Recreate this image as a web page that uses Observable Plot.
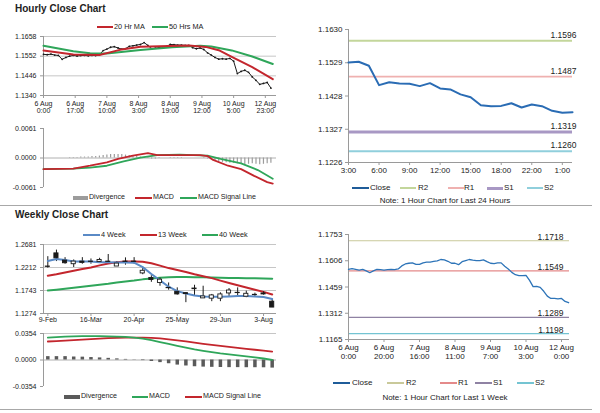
<!DOCTYPE html>
<html><head><meta charset="utf-8">
<script src="https://cdn.jsdelivr.net/npm/d3@7"></script>
<script src="https://cdn.jsdelivr.net/npm/@observablehq/plot@0.6"></script>
<style>
body{margin:0;background:#fff;}
#root{position:relative;width:600px;height:413px;overflow:hidden;font-family:"Liberation Sans",Arial,Helvetica,sans-serif;color:#222;background:#fff;}
#root svg{display:block;}
</style></head><body><div id="root"></div>
<script>
// ---------- Hourly close chart (top-left) ----------
const hcYTicks = [1.1340, 1.1446, 1.1552, 1.1658];
const hcXTickIdx = [0, 17, 34, 51, 68, 85, 102, 119];
const hcXTickLabels = ["6 Aug\n0:00","6 Aug\n17:00","7 Aug\n10:00","8 Aug\n3:00","8 Aug\n19:00","9 Aug\n12:00","10 Aug\n5:00","12 Aug\n23:00"];
// hourly close, every 2nd hour (index 0,2,4,...)
const hcClose = [1.1562,1.1560,1.1563,1.1558,1.1556,1.1535,1.1545,1.1552,1.1556,1.1553,1.1555,1.1556,1.1554,1.1556,1.1555,1.1560,
  1.1582,1.1590,1.1600,1.1603,1.1596,1.1590,1.1593,1.1605,1.1608,1.1612,1.1615,1.1625,1.1610,1.1592,1.1595,1.1598,1.1596,1.1605,
  1.1615,1.1614,1.1612,1.1612,1.1610,1.1610,1.1598,1.1592,1.1596,1.1588,1.1570,1.1558,1.1545,1.1536,1.1538,1.1536,1.1540,1.1525,
  1.1458,1.1470,1.1476,1.1465,1.1440,1.1422,1.1400,1.1405,1.1410,1.1380];
const ma20Idx = [0,16,30,41,52,78,87,94,101,112,123];
const ma20Val = [1.1582,1.1561,1.1558,1.1586,1.1603,1.1609,1.1602,1.1584,1.1548,1.1493,1.1428];
const ma50Idx = [0,16,25,34,52,69,84,90,101,112,123];
const ma50Val = [1.1608,1.1578,1.1568,1.1567,1.1585,1.1600,1.1608,1.1604,1.1583,1.1550,1.1510];

// ---------- Hourly MACD ----------
const hmYTicks = [-0.0061, 0.0000, 0.0061];
const hmMacdIdx = [0,16,25,34,40,48,56,61,70,84,88,91,99,106,113,120,123];
const hmMacdVal = [-0.0023,-0.0022,-0.0016,-0.0009,-0.0002,0.0005,0.0010,0.0006,0.0006,0.0006,0.0004,-0.0004,-0.0016,-0.0023,-0.0037,-0.0050,-0.0053];
const hmSigIdx = [0,16,25,34,43,52,61,73,88,95,106,115,123];
const hmSigVal = [-0.0023,-0.0022,-0.0020,-0.0016,-0.0007,0.0001,0.0006,0.0007,0.0005,-0.0002,-0.0011,-0.0025,-0.0043];
// divergence every 2nd hour
const hmDiv = [0,0,0,0,0,0,0,0.0001, 0.0001,0.0001,0.0002,0.0002,0.0002,0.0003,0.0003,
  0.0004,0.0005,0.0006,0.0007,0.0007, 0.0007,0.0007,0.0006,0.0005,0.0004,0.0003,0.0002,
  0.0001,-0.0001,-0.0002,-0.0002,-0.0001,0,0, 0.0001,0.0001,0.0001,0.0001,0,0,0,0,0,-0.0001,
  -0.0002,-0.0004,-0.0006,-0.0008,-0.0009,-0.0010,-0.0011,-0.0011,-0.0012,
  -0.0013,-0.0014,-0.0013,-0.0012,-0.0013,-0.0014,-0.0013,-0.0012,-0.0011];

// ---------- Last 24 hours (top-right) ----------
const h24Labels = ["3:00","4:00","5:00","6:00","7:00","8:00","9:00","10:00","11:00","12:00","13:00","14:00","15:00","16:00","17:00","18:00","20:00","21:00","22:00","23:00","0:00","1:00","2:00"];
const h24Close = [1.1530,1.1532,1.1520,1.1461,1.1470,1.1466,1.1465,1.1458,1.1467,1.1451,1.1448,1.1433,1.1424,1.1400,1.1397,1.1398,1.1406,1.1393,1.1402,1.1397,1.1383,1.1377,1.1379];
const h24Shown = ["3:00","6:00","9:00","12:00","15:00","18:00","22:00","1:00"];
const h24YTicks = [1.1226, 1.1327, 1.1428, 1.1529, 1.1630];
const levelNames = ["R2","R1","S1","S2"];
const levels24 = [1.1596, 1.1487, 1.1319, 1.1260];

// ---------- Last week hourly (bottom-right) ----------
const wkYTicks = [1.1165, 1.1312, 1.1459, 1.1606, 1.1753];
const wkXTickIdx = [0,20,40,60,80,100,120];
const wkXTickLabels = ["6 Aug\n0:00","6 Aug\n20:00","7 Aug\n16:00","8 Aug\n11:00","9 Aug\n7:00","10 Aug\n3:00","12 Aug\n0:00"];
const wkClose = [1.1558,1.1562,1.1558,1.1554,1.1558,1.1549,1.1539,1.1549,1.1558,1.1556,1.1554,1.1556,1.1558,1.1556,1.1560,
  1.1577,1.1588,1.1592,1.1594,1.1586,1.1586,1.1594,1.1598,1.1598,1.1603,1.1605,1.1613,1.1611,1.1603,1.1592,1.1592,1.1584,
  1.1601,1.1607,1.1613,1.1609,1.1607,1.1607,1.1611,1.1601,1.1592,1.1590,1.1594,1.1594,1.1575,1.1560,1.1541,1.1528,1.1523,
  1.1523,1.1524,1.1496,1.1461,1.1463,1.1457,1.1435,1.1408,1.1395,1.1395,1.1392,1.1395,1.1378,1.1371];
const levelsWk = [1.1718, 1.1549, 1.1289, 1.1198];

// ---------- Weekly close chart (bottom-left) ----------
const wLabels = ["9-Feb","16-Mar","20-Apr","25-May","29-Jun","3-Aug"];
const wLabelIdx = [0,5,10,15,20,25];
const wYTicks = [1.1274, 1.1743, 1.2212, 1.2681];
const wOpen  = [1.2232,1.2500,1.2353,1.2279,1.2333,1.2333,1.2326,1.2333,1.2232,1.2333,1.2333,1.2091,1.1998,1.1897,1.1797,1.1716,1.1689,1.1783,1.1582,1.1576,1.1576,1.1683,1.1696,1.1616,1.1649,1.1683,1.1515];
const wClose = [1.2225,1.2400,1.2299,1.2333,1.2306,1.2326,1.2366,1.2326,1.2292,1.2326,1.2326,1.2145,1.1957,1.1964,1.1790,1.1663,1.1669,1.1770,1.1622,1.1643,1.1663,1.1743,1.1690,1.1676,1.1655,1.1663,1.1395];
const wHigh  = [1.2433,1.2567,1.2413,1.2366,1.2413,1.2386,1.2400,1.2477,1.2333,1.2408,1.2413,1.2212,1.2045,1.1998,1.1897,1.1797,1.1696,1.1850,1.1830,1.1663,1.1696,1.1783,1.1797,1.1730,1.1689,1.1716,1.1562];
const wLow   = [1.2199,1.2333,1.2279,1.2212,1.2279,1.2279,1.2299,1.2294,1.2232,1.2259,1.2279,1.2065,1.1910,1.1830,1.1750,1.1649,1.1495,1.1629,1.1582,1.1515,1.1515,1.1609,1.1629,1.1596,1.1616,1.1649,1.1395];
const w4  = [1.2346,1.2386,1.2366,1.2333,1.2333,1.2333,1.2320,1.2320,1.2313,1.2313,1.2310,1.2220,1.2080,1.1950,1.1820,1.1730,1.1683,1.1640,1.1620,1.1616,1.1616,1.1622,1.1630,1.1630,1.1622,1.1609,1.1569];
const w13 = [1.2045,1.2075,1.2110,1.2145,1.2180,1.2212,1.2255,1.2295,1.2320,1.2333,1.2335,1.2330,1.2299,1.2250,1.2200,1.2160,1.2120,1.2075,1.2035,1.1995,1.1945,1.1897,1.1850,1.1805,1.1760,1.1715,1.1663];
const w40 = [1.1743,1.1760,1.1780,1.1800,1.1820,1.1840,1.1860,1.1880,1.1905,1.1925,1.1945,1.1970,1.1990,1.2005,1.2015,1.2018,1.2018,1.2015,1.2012,1.2008,1.2005,1.2000,1.1998,1.1995,1.1992,1.1990,1.1985];

// ---------- Weekly MACD ----------
const wmYTicks = [-0.0354, 0.0000, 0.0354];
const wMacd = [0.0300,0.0306,0.0312,0.0316,0.0318,0.0318,0.0318,0.0316,0.0312,0.0308,0.0300,0.0285,0.0265,0.0240,0.0215,0.0190,0.0165,0.0142,0.0122,0.0104,0.0088,0.0075,0.0062,0.0049,0.0036,0.0020,0.0002];
const wSig  = [0.0247,0.0252,0.0258,0.0265,0.0272,0.0280,0.0286,0.0291,0.0295,0.0298,0.0300,0.0299,0.0295,0.0288,0.0275,0.0262,0.0248,0.0232,0.0216,0.0202,0.0188,0.0175,0.0162,0.0150,0.0137,0.0124,0.0112];
const wDiv  = [0.0045,0.0045,0.0045,0.0040,0.0038,0.0033,0.0028,0.0022,0.0015,0.0008,0.0003,-0.0008,-0.0020,-0.0035,-0.0050,-0.0068,-0.0080,-0.0090,-0.0095,-0.0098,-0.0100,-0.0102,-0.0102,-0.0103,-0.0103,-0.0104,-0.0108];

// ---------- styling ----------
const FONT = '"Liberation Sans", Arial, Helvetica, sans-serif';
const RED = "#c3262d", GREEN = "#2fa65a", BLUE4 = "#5a8ac6";
const GRID = "#c6c6c6", AXIS = "#9a9a9a";
const col24 = ["#c3d69b", "#efb1b0", "#a898c4", "#90cfdc"];
const w24 = [2, 1.6, 3, 2];
const colWk = ["#c9c99a", "#e48a8a", "#8f82a3", "#74c4d2"];
const f4 = d => d.toFixed(4);
const root = document.getElementById("root");

function put(node, left, top) {
  node.style.position = "absolute"; node.style.left = left + "px"; node.style.top = top + "px";
  root.appendChild(node);
}
function txt(x, y, s, o = {}) {
  const d = document.createElement("div");
  d.textContent = s;
  d.style.cssText = `position:absolute;left:${x}px;top:${y}px;font-size:${o.size || 7}px;line-height:1;white-space:nowrap;` +
    `transform:translate(${o.center ? "-50%" : "0"},-50%);font-weight:${o.bold ? "bold" : "normal"};color:#222;`;
  root.appendChild(d);
}
function sw(x1, x2, y, color, h) {
  const d = document.createElement("div");
  d.style.cssText = `position:absolute;left:${x1}px;top:${y - h / 2}px;width:${x2 - x1}px;height:${h}px;background:${color};`;
  root.appendChild(d);
}
function hr(y, x1, x2) {
  const d = document.createElement("div");
  d.style.cssText = `position:absolute;left:${x1}px;top:${y}px;width:${x2 - x1}px;height:1px;background:#a8a8a8;`;
  root.appendChild(d);
}
const st = fs => ({fontFamily: FONT, fontSize: fs + "px", background: "transparent", overflow: "visible", color: "#222"});

// ---------- Panel A: hourly close ----------
const closeData = hcClose.map((v, k) => ({i: k * 2, v}));
const ma20Data = ma20Idx.map((i, k) => ({i, v: ma20Val[k]}));
const ma50Data = ma50Idx.map((i, k) => ({i, v: ma50Val[k]}));
put(Plot.plot({
  width: 300, height: 90, marginLeft: 43, marginRight: 24, marginTop: 6, marginBottom: 25,
  style: st(7),
  x: {domain: [0, 125], label: null}, y: {domain: [hcYTicks[0], hcYTicks[3]], label: null},
  marks: [
    Plot.ruleY(hcYTicks.slice(1), {stroke: GRID}),
    Plot.ruleY([hcYTicks[0]], {stroke: AXIS}),
    Plot.ruleX([0], {stroke: AXIS}),
    Plot.axisY(hcYTicks, {tickFormat: f4, tickSize: 3, tickPadding: 4, stroke: AXIS, fill: "#222", fontSize: 7, label: null}),
    Plot.axisX(hcXTickIdx, {tickFormat: d => hcXTickLabels[hcXTickIdx.indexOf(d)], tickSize: 3, tickPadding: 2, stroke: AXIS, fill: "#222", fontSize: 7, lineHeight: 1.05, label: null}),
    Plot.line(closeData, {x: "i", y: "v", stroke: "#1a1a1a", strokeWidth: 1}),
    Plot.dot(closeData, {x: "i", y: "v", r: 0.9, fill: "#1a1a1a", stroke: null}),
    Plot.line(ma50Data, {x: "i", y: "v", stroke: GREEN, strokeWidth: 2}),
    Plot.line(ma20Data, {x: "i", y: "v", stroke: RED, strokeWidth: 2})
  ]
}), 0, 30);

// ---------- Panel B: hourly MACD ----------
const hmDivData = hmDiv.map((v, k) => ({i: k * 2, v}));
put(Plot.plot({
  width: 300, height: 80, marginLeft: 43, marginRight: 24, marginTop: 8, marginBottom: 13,
  style: st(7),
  x: {domain: [0, 125], axis: null}, y: {domain: [hmYTicks[0], hmYTicks[2]], label: null},
  marks: [
    Plot.ruleY([0], {stroke: "#b0b0b0"}),
    Plot.ruleX([0], {stroke: AXIS}),
    Plot.axisY(hmYTicks, {tickFormat: f4, tickSize: 3, tickPadding: 4, stroke: AXIS, fill: "#222", fontSize: 7, label: null}),
    Plot.ruleX(hmDivData, {x: "i", y1: 0, y2: "v", stroke: "#9c9c9c", strokeWidth: 1.2}),
    Plot.line(hmSigIdx.map((i, k) => ({i, v: hmSigVal[k]})), {x: "i", y: "v", stroke: GREEN, strokeWidth: 1.8}),
    Plot.line(hmMacdIdx.map((i, k) => ({i, v: hmMacdVal[k]})), {x: "i", y: "v", stroke: RED, strokeWidth: 1.8})
  ]
}), 0, 120);

// ---------- Panel C: last 24 hours ----------
const h24Data = h24Close.map((v, i) => ({i, v}));
const h24TickIdx = h24Shown.map(s => h24Labels.indexOf(s));
put(Plot.plot({
  width: 300, height: 160, marginLeft: 48, marginRight: 28, marginTop: 9, marginBottom: 18,
  style: st(8),
  x: {domain: [0, h24Labels.length - 1], label: null}, y: {domain: [h24YTicks[0], h24YTicks[4]], label: null},
  marks: [
    Plot.ruleY(levels24, {y: d => d, stroke: (d, k) => col24[k], strokeWidth: (d, k) => w24[k]}),
    Plot.text(levels24, {y: d => d, text: f4, frameAnchor: "right", textAnchor: "end", lineAnchor: "bottom", dx: 4, dy: -3, fontSize: 8.5, fill: "#222"}),
    Plot.ruleX([0], {stroke: AXIS}),
    Plot.ruleY([h24YTicks[0]], {stroke: AXIS}),
    Plot.axisY(h24YTicks, {tickFormat: f4, tickSize: 3, tickPadding: 3, stroke: AXIS, fill: "#222", fontSize: 8, label: null}),
    Plot.axisX(h24TickIdx, {tickFormat: d => h24Labels[d], tickSize: 3, tickPadding: 2, stroke: AXIS, fill: "#222", fontSize: 8, label: null}),
    Plot.line(h24Data, {x: "i", y: "v", stroke: "#2a6cb4", strokeWidth: 2})
  ]
}), 300, 20);

// ---------- Panel D: last week hourly ----------
const wkData = wkClose.map((v, k) => ({i: k * 2, v}));
put(Plot.plot({
  width: 300, height: 150, marginLeft: 48, marginRight: 31, marginTop: 14, marginBottom: 31,
  style: st(8),
  x: {domain: [0, 124.5], label: null}, y: {domain: [wkYTicks[0], wkYTicks[4]], label: null},
  marks: [
    Plot.ruleY(levelsWk, {y: d => d, stroke: (d, k) => colWk[k], strokeWidth: 1.2}),
    Plot.text(levelsWk, {y: d => d, text: f4, frameAnchor: "right", textAnchor: "end", lineAnchor: "bottom", dx: -6, dy: -1, fontSize: 8.5, fill: "#222"}),
    Plot.ruleX([0], {stroke: AXIS}),
    Plot.ruleY([wkYTicks[0]], {stroke: AXIS}),
    Plot.axisY(wkYTicks, {tickFormat: f4, tickSize: 3, tickPadding: 3, stroke: AXIS, fill: "#222", fontSize: 8, label: null}),
    Plot.axisX(wkXTickIdx, {tickFormat: d => wkXTickLabels[wkXTickIdx.indexOf(d)], tickSize: 3, tickPadding: 2, stroke: AXIS, fill: "#222", fontSize: 8, lineHeight: 1.05, label: null}),
    Plot.line(wkData, {x: "i", y: "v", stroke: "#2d74b8", strokeWidth: 1.3})
  ]
}), 300, 220);

// ---------- Panel E: weekly close ----------
const weeks = wOpen.map((o, i) => ({i, o, c: wClose[i], h: wHigh[i], l: wLow[i]}));
put(Plot.plot({
  width: 300, height: 90, marginLeft: 43, marginRight: 24, marginTop: 6, marginBottom: 15,
  style: st(7),
  x: {domain: [-0.5, wOpen.length - 0.5], label: null}, y: {domain: [wYTicks[0], wYTicks[3]], label: null},
  marks: [
    Plot.ruleY(wYTicks.slice(1), {stroke: GRID}),
    Plot.ruleY([wYTicks[0]], {stroke: AXIS}),
    Plot.ruleX([-0.5], {stroke: AXIS}),
    Plot.axisY(wYTicks, {tickFormat: f4, tickSize: 3, tickPadding: 4, stroke: AXIS, fill: "#222", fontSize: 7, label: null}),
    Plot.axisX(wLabelIdx, {tickFormat: d => wLabels[wLabelIdx.indexOf(d)], tickSize: 3, tickPadding: 1, stroke: AXIS, fill: "#222", fontSize: 7, label: null}),
    Plot.line(w40.map((v, i) => ({i, v})), {x: "i", y: "v", stroke: GREEN, strokeWidth: 2}),
    Plot.line(w13.map((v, i) => ({i, v})), {x: "i", y: "v", stroke: RED, strokeWidth: 2}),
    Plot.ruleX(weeks, {x: "i", y1: "l", y2: "h", stroke: "#1a1a1a", strokeWidth: 1}),
    Plot.line(w4.map((v, i) => ({i, v})), {x: "i", y: "v", stroke: BLUE4, strokeWidth: 2}),
    Plot.rect(weeks, {x1: d => d.i - 0.24, x2: d => d.i + 0.24, y1: "o", y2: "c",
      fill: d => (d.c >= d.o ? "#fff" : "#1a1a1a"), stroke: "#1a1a1a", strokeWidth: 0.9})
  ]
}), 0, 238);

// ---------- Panel F: weekly MACD ----------
put(Plot.plot({
  width: 300, height: 66, marginLeft: 43, marginRight: 24, marginTop: 7, marginBottom: 6,
  style: st(7),
  x: {domain: [-0.5, wOpen.length - 0.5], axis: null}, y: {domain: [wmYTicks[0], wmYTicks[2]], label: null},
  marks: [
    Plot.ruleY([wmYTicks[2]], {stroke: GRID}),
    Plot.ruleY([0], {stroke: "#b0b0b0"}),
    Plot.ruleX([-0.5], {stroke: AXIS}),
    Plot.axisY(wmYTicks, {tickFormat: f4, tickSize: 3, tickPadding: 4, stroke: AXIS, fill: "#222", fontSize: 7, label: null}),
    Plot.ruleX(wDiv.map((v, i) => ({i, v})), {x: "i", y1: 0, y2: "v", stroke: "#5a5a5a", strokeWidth: 3.5}),
    Plot.line(wSig.map((v, i) => ({i, v})), {x: "i", y: "v", stroke: RED, strokeWidth: 1.8}),
    Plot.line(wMacd.map((v, i) => ({i, v})), {x: "i", y: "v", stroke: GREEN, strokeWidth: 1.8})
  ]
}), 0, 326);

// ---------- titles, legends, notes ----------
txt(15, 8.5, "Hourly Close Chart", {size: 10, bold: true});
txt(15, 214.5, "Weekly Close Chart", {size: 10, bold: true});

sw(97, 113, 27, RED, 2.2); txt(114, 27, "20 Hr MA", {size: 7.3});
sw(152, 168, 27, GREEN, 2.2); txt(169, 27, "50 Hrs MA", {size: 7.3});

sw(73, 88, 198, "#9c9c9c", 4); txt(89, 198, "Divergence", {size: 7.1});
sw(135, 152, 198, RED, 2); txt(153, 198, "MACD", {size: 7.1});
sw(180, 197, 198, GREEN, 2); txt(198, 198, "MACD Signal Line", {size: 7.1});

sw(352, 369, 188, "#1f5c99", 2.5); txt(370, 188, "Close", {size: 8});
const lg24 = [[400, 418], [448, 464], [487, 504], [527, 544]];
levelNames.forEach((n, k) => { sw(lg24[k][0], lg24[k][0] + 16, 188, col24[k], w24[k]); txt(lg24[k][1], 188, n, {size: 8}); });
txt(445, 201, "Note: 1 Hour Chart for Last 24 Hours", {size: 8, center: true});

sw(83, 100, 235, BLUE4, 2.2); txt(101, 235, "4 Week", {size: 7.3});
sw(140, 157, 235, RED, 2.2); txt(158, 235, "13 Week", {size: 7.3});
sw(202, 218, 235, GREEN, 2.2); txt(219, 235, "40 Week", {size: 7.3});

sw(64, 80, 397, "#5a5a5a", 4); txt(81, 397, "Divergence", {size: 7.1});
sw(132, 148, 397, GREEN, 2); txt(149, 397, "MACD", {size: 7.1});
sw(185, 202, 397, RED, 2); txt(203, 397, "MACD Signal Line", {size: 7.1});

sw(333, 350, 383, "#1f5c99", 2); txt(352, 383, "Close", {size: 8});
const lgWk = [[387, 406], [440, 458], [475, 493], [517, 535]];
levelNames.forEach((n, k) => { sw(lgWk[k][0], lgWk[k][0] + 17, 383, colWk[k], 1.3); txt(lgWk[k][1], 383, n, {size: 8}); });
txt(445, 398, "Note: 1 Hour Chart for Last 1 Week", {size: 8, center: true});

hr(205, 0, 592);
hr(409, 0, 592);
</script></body></html>
